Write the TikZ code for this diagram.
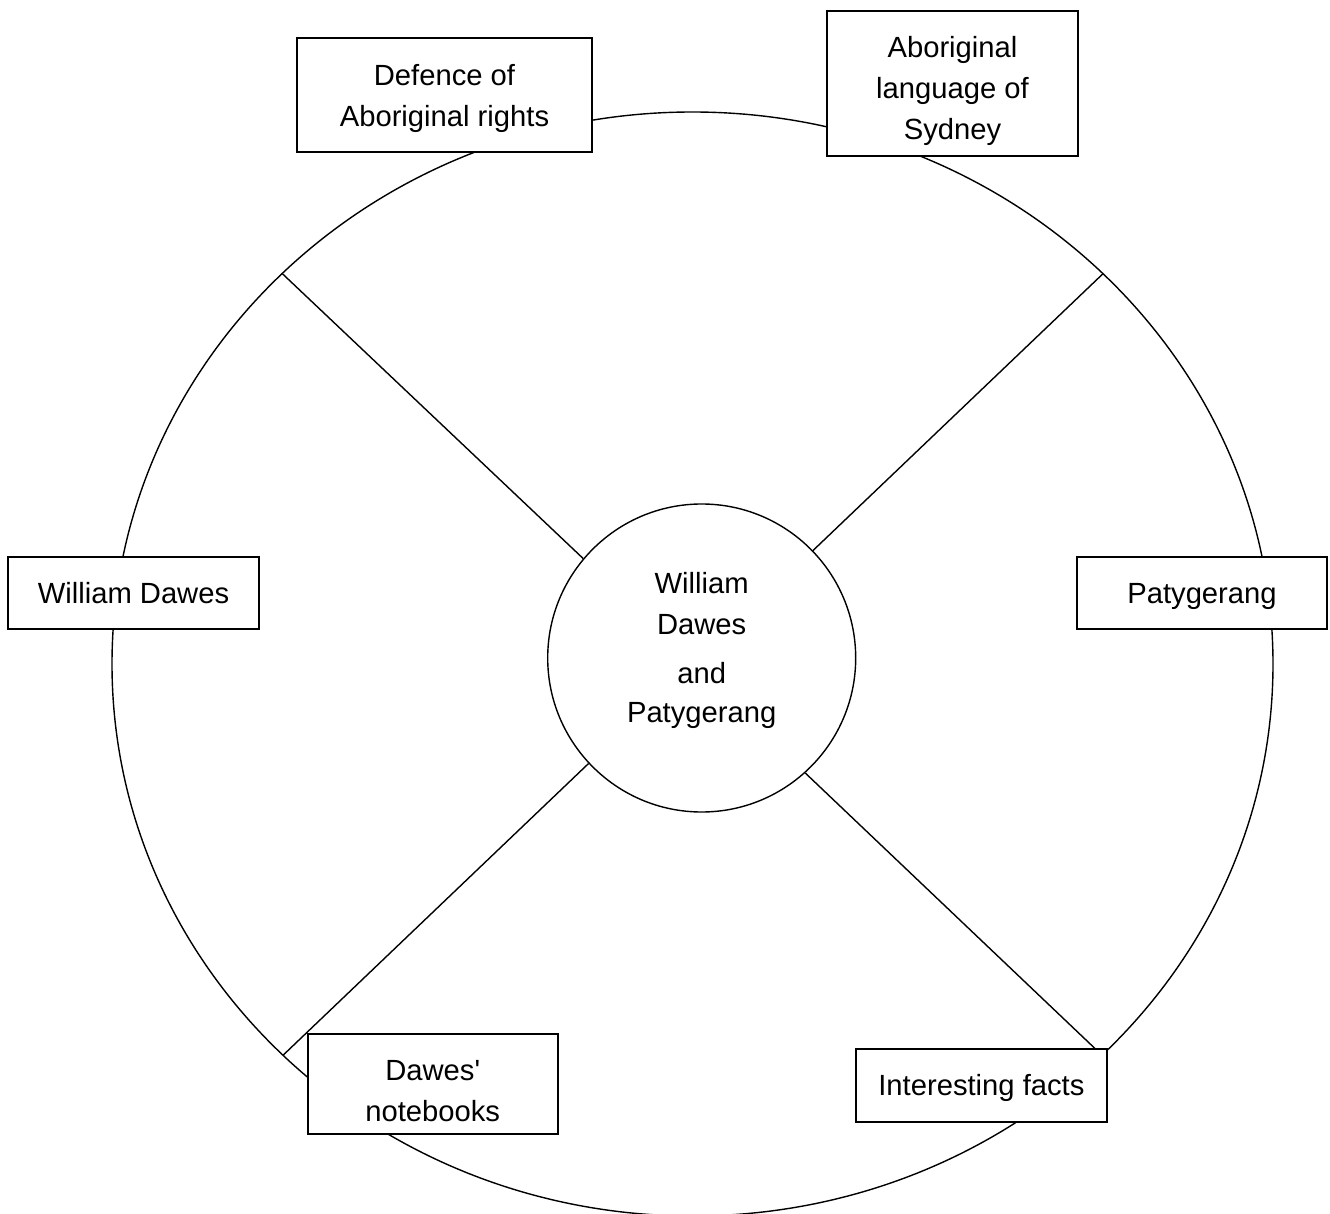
\documentclass[tikz,border=0pt]{standalone}
\usepackage{fontspec}
\setmainfont{Liberation Sans}[Ligatures=TeXOff]

\begin{document}
\begin{tikzpicture}[x=0.5pt,y=-0.5pt,line width=0.7pt,
	every node/.style={font=\fontsize{14.6}{20.5}\selectfont,align=center},
	topic/.style={draw,fill=white,rectangle,inner sep=0pt,line width=0.9pt}]

	\useasboundingbox (0,0) rectangle (1330,1214);

	% hub
	\node (hub) [circle,draw,minimum size=154pt,inner sep=0pt] at (701.7,658) {};
	\node (hubText) at (701.7,650) {William\\Dawes\\[4pt]and\\[-1pt]Patygerang};

	% rim
	\draw (692.5,664) ellipse [x radius=580.5,y radius=552];

	% spokes
	\coordinate (ulEnd) at (282.7,274);
	\coordinate (urEnd) at (1102.7,274);
	\coordinate (llEnd) at (283.3,1055);
	\coordinate (lrEnd) at (1101.8,1055);

	\draw (hub.140.7) -- (ulEnd);
	\draw (hub.44) -- (urEnd);
	\draw (hub.223.2) -- (llEnd);
	\draw (hub.312.3) -- (lrEnd);

	% topics on the rim
	\node (rights) [topic,minimum width=147.5pt,minimum height=57pt] at (444.5,95) {};
	\node (rightsText) at (444.5,98) {Defence of\\Aboriginal rights};
	\node (language) [topic,minimum width=125.5pt,minimum height=72.5pt] at (952.5,83.5) {};
	\node (languageText) at (952.5,90.5) {Aboriginal\\language of\\Sydney};
	\node (dawes) [topic,minimum width=125.5pt,minimum height=36pt] at (133.5,593) {};
	\node (dawesText) at (133.5,593) {William Dawes};
	\node (patygerang) [topic,minimum width=125pt,minimum height=36pt] at (1202,593) {};
	\node (patygerangText) at (1202,596) {Patygerang};
	\node (notebooks) [topic,minimum width=125pt,minimum height=50pt] at (432.7,1084.3) {};
	\node (notebooksText) at (432.7,1091) {Dawes'\\notebooks};
	\node (facts) [topic,minimum width=125.5pt,minimum height=36.5pt] at (981.4,1085.6) {};
	\node (factsText) at (981.4,1087.5) {Interesting facts};
\end{tikzpicture}
\end{document}
